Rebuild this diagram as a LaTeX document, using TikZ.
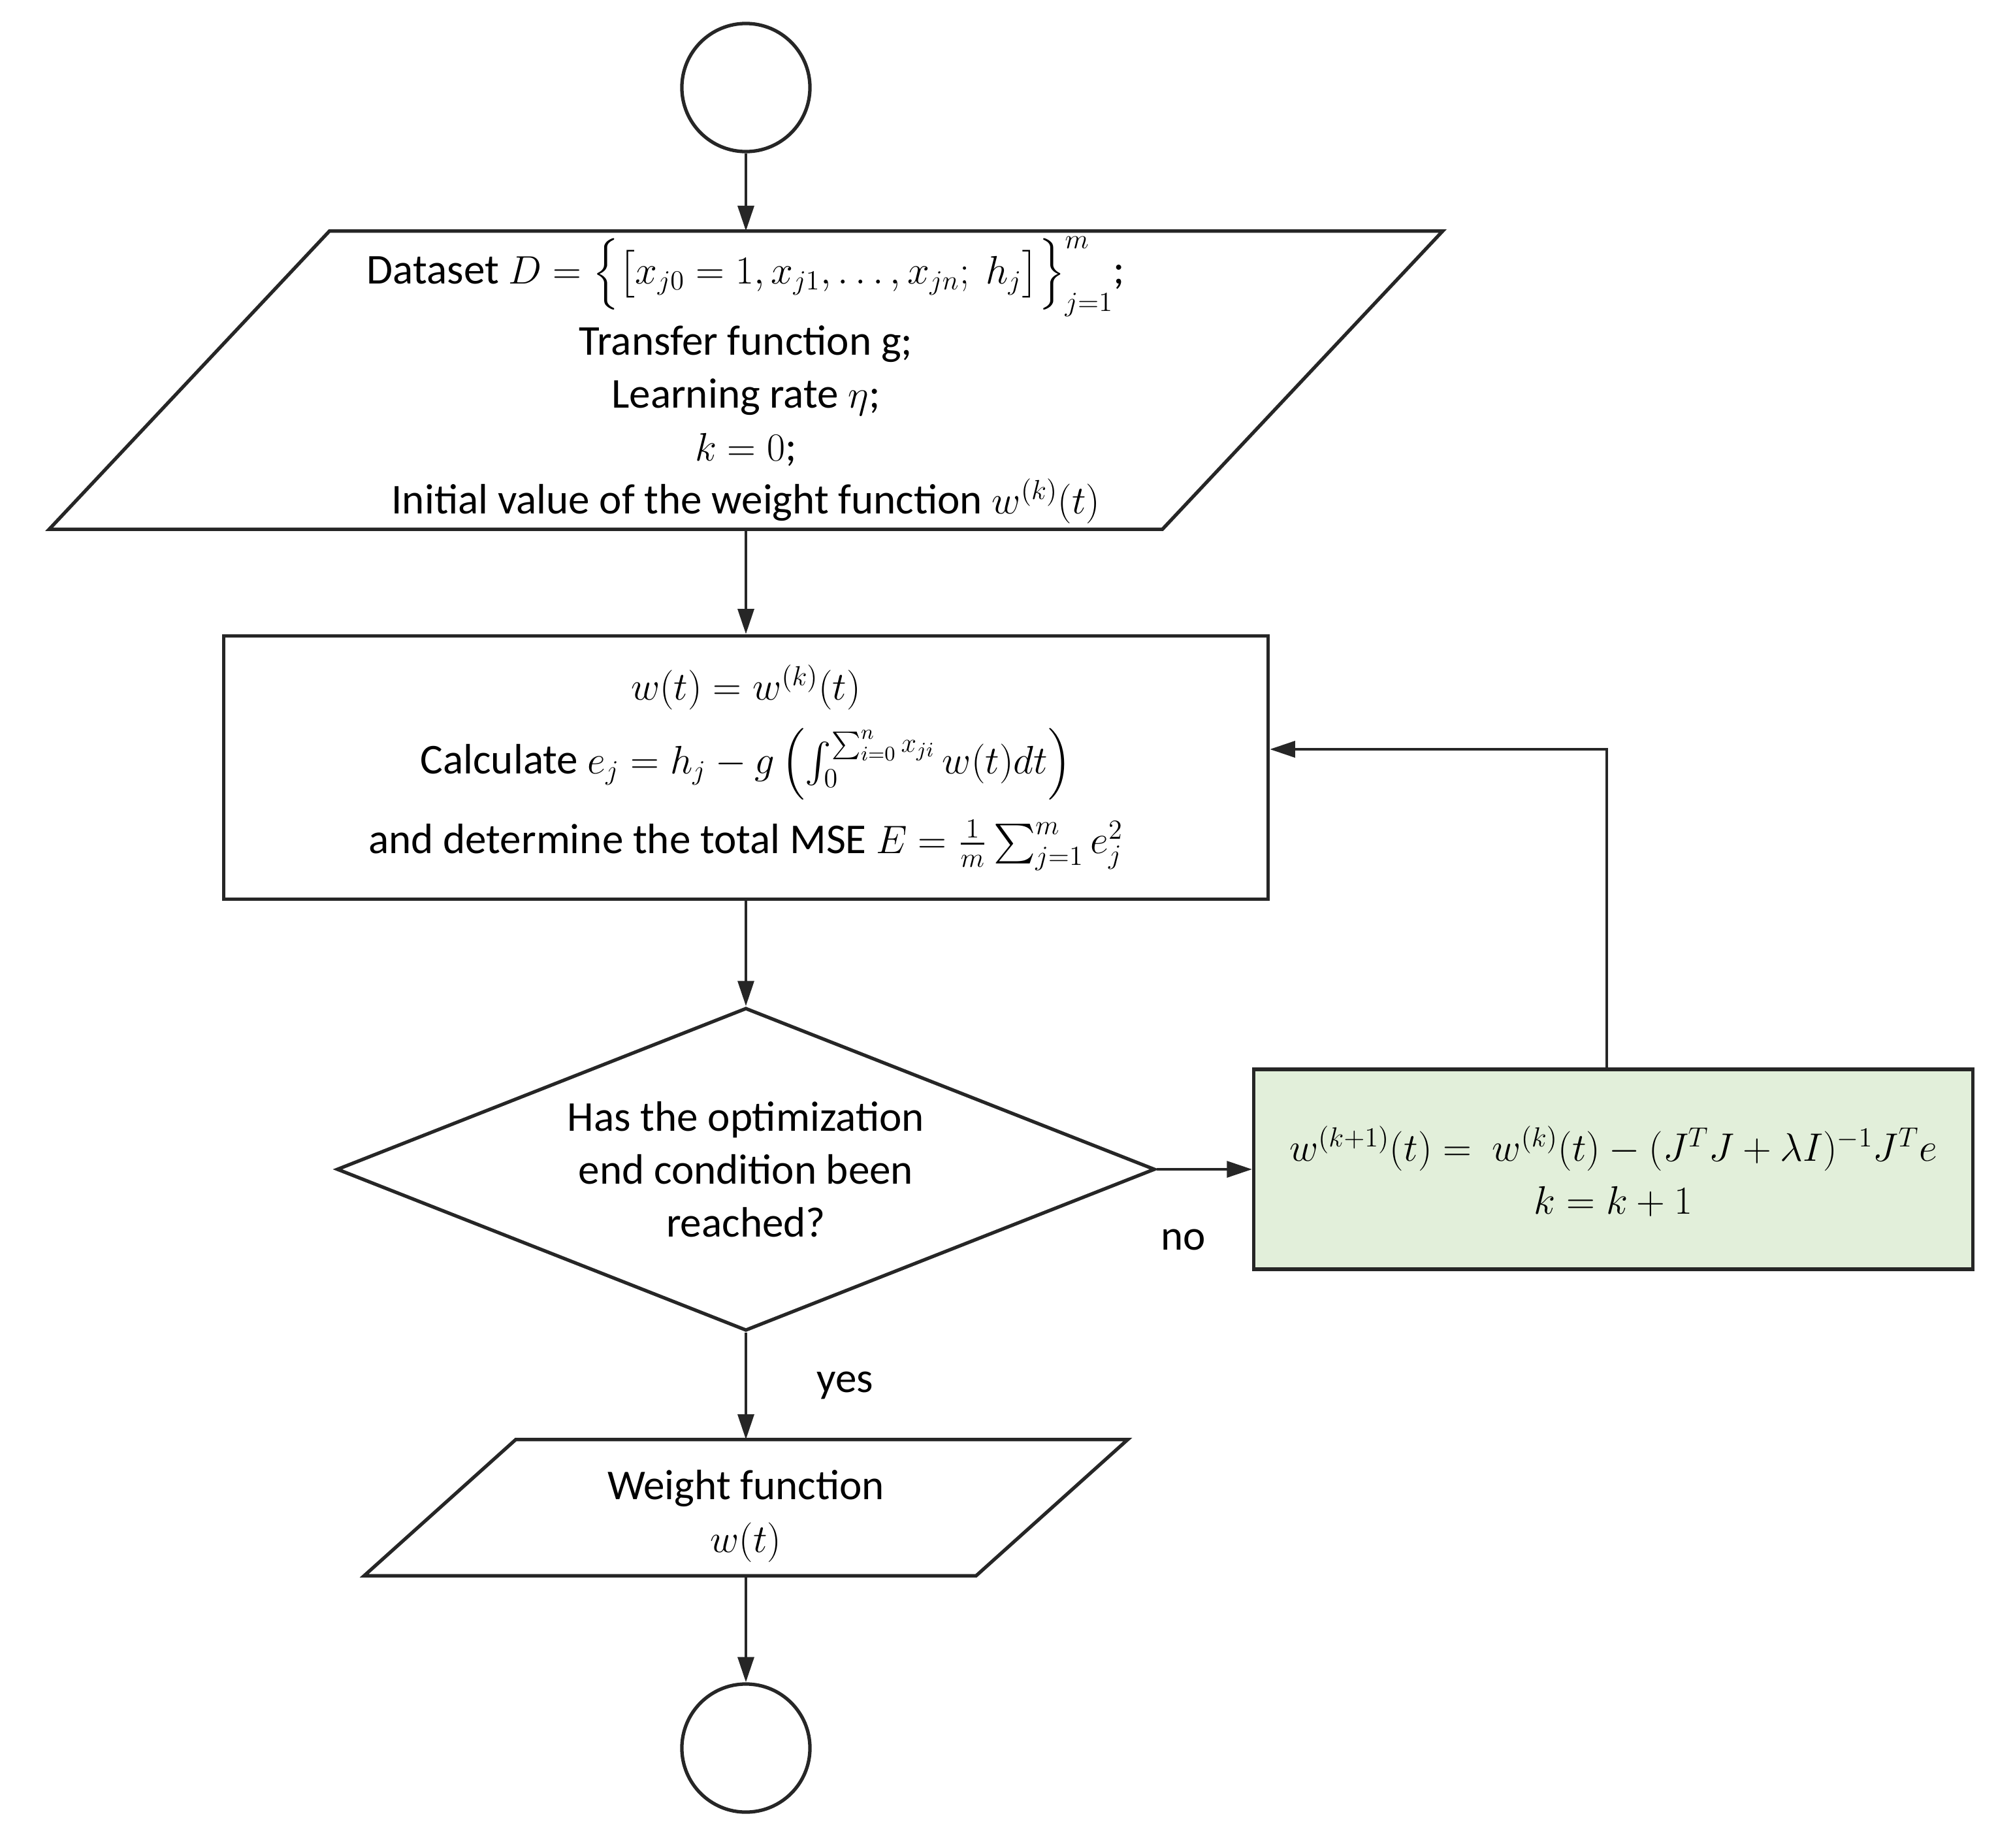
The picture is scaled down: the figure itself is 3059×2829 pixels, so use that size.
\documentclass[tikz,border=0pt]{standalone}
\usepackage{amsmath}
\usepackage{fontspec}
\setmainfont{Carlito}
\usetikzlibrary{arrows.meta,shapes.geometric}
\definecolor{boxgreen}{HTML}{E2EFDA}
\definecolor{linecol}{HTML}{262626}
\newcommand\flowfont{\fontsize{18.5}{23}\selectfont}
\begin{document}
\begin{tikzpicture}[x=0.01cm,y=-0.01cm,
  shapeline/.style={draw=linecol,line width=1.5pt,line join=miter},
  textbox/.style={inner sep=0pt,align=center,font=\flowfont},
  termnode/.style={shapeline,circle,minimum size=1.96cm,inner sep=0pt},
  procbox/.style={shapeline,textbox,rectangle},
  decbox/.style={shapeline,textbox,diamond,aspect=2.53},
  arr/.style={draw=linecol,line width=1.3pt,-{Triangle[length=11pt,width=7pt]}},
  lbl/.style={font=\flowfont,inner sep=0pt}]
\useasboundingbox (0,0) rectangle (3059,2829);

\node[termnode] (start) at (1142,134) {};

\node[textbox,minimum width=17.02cm,minimum height=4.55cm] (in1) at (1142,582) {%
Dataset $D=\Bigl\{\bigl[x_{j0}=1,x_{j1},\dots,x_{jn};\ h_j\bigr]\Bigr\}_{j=1}^{m}$;\\[3pt]
Transfer function g;\\
Learning rate $\eta$;\\
$k=0$;\\
Initial value of the weight function $w^{(k)}(t)$};
\draw[shapeline] ([xshift=2.145cm]in1.north west) -- ([xshift=2.145cm]in1.north east)
  -- ([xshift=-2.145cm]in1.south east) -- ([xshift=-2.145cm]in1.south west) -- cycle;

\node[procbox,minimum width=15.98cm,minimum height=4.03cm] (proc) at (1142,1175) {%
$w(t)=w^{(k)}(t)$\\[7pt]
Calculate $e_j=h_j-g\left(\int_0^{\sum_{i=0}^{n}x_{ji}}w(t)dt\right)$\\[8pt]
and determine the total MSE $E=\frac{1}{m}\sum_{j=1}^{m}e_j^2$};

\node[decbox,minimum width=12.52cm,minimum height=4.94cm] (dec) at (1142,1790) {%
\fontsize{18.5}{20.8}\selectfont Has the optimization\\end condition been\\reached?};

\node[procbox,fill=boxgreen,minimum width=11.0cm,minimum height=3.06cm] (upd) at (2470,1790) {%
\rule{0pt}{17pt}$w^{(k+1)}(t)=\ w^{(k)}(t)-(J^TJ+\lambda I)^{-1}J^Te$\\
$k=k+1$};

\node[textbox,minimum width=9.35cm,minimum height=2.07cm] (out) at (1142,2308) {%
\rule{0pt}{20pt}Weight function\\[0pt] $w(t)$};
\draw[shapeline] ([xshift=1.16cm]out.north west) -- ([xshift=1.16cm]out.north east)
  -- ([xshift=-1.16cm]out.south east) -- ([xshift=-1.16cm]out.south west) -- cycle;

\node[termnode] (stop) at (1142,2676) {};

\draw[arr] (start) -- (in1.north);
\draw[arr] (in1.south) -- (proc.north);
\draw[arr] (proc.south) -- (dec.north);
\draw[arr] (dec.east) -- (upd.west);
\draw[arr] ([xshift=-0.1cm]upd.north) |- ([yshift=0.28cm]proc.east);
\draw[arr] (dec.south) -- (out.north);
\draw[arr] (out.south) -- (stop);

\node[lbl] (no) at (1812,1898) {no};
\node[lbl] (yes) at (1294,2121) {yes};
\end{tikzpicture}
\end{document}
